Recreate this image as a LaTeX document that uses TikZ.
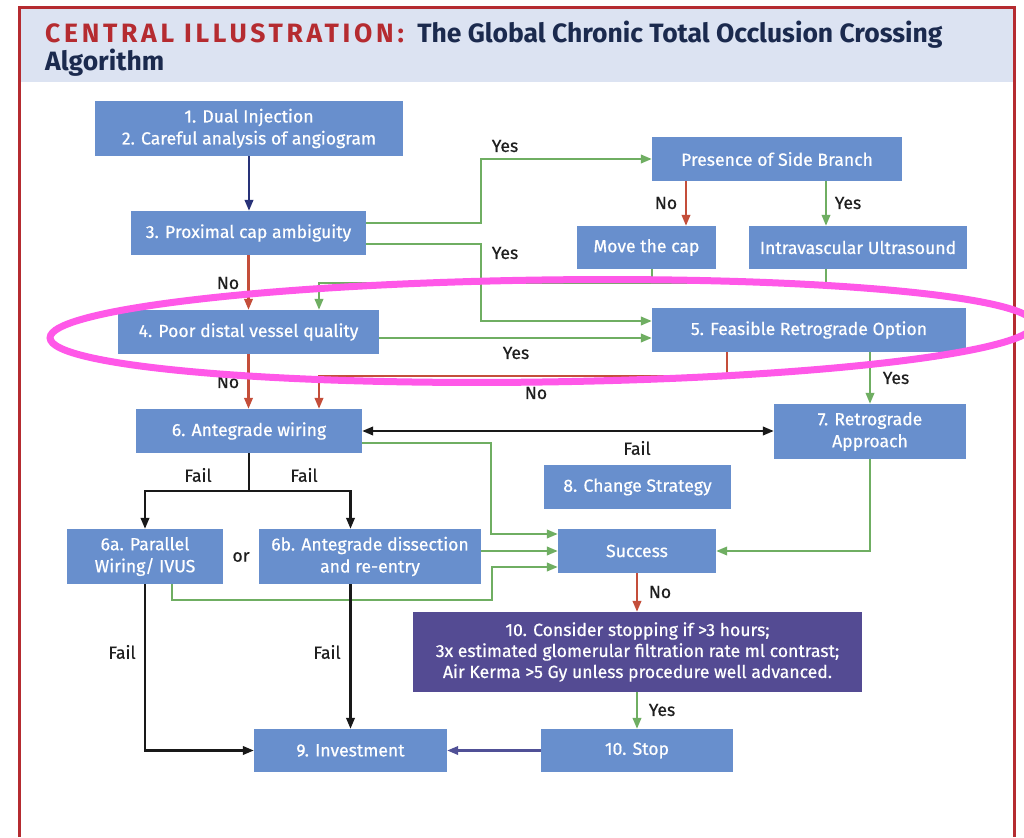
\documentclass[tikz,border=0pt]{standalone}
\usepackage{fontspec}
\usepackage{graphicx}
\setmainfont{Fira Sans}
\newfontfamily\boxfont{Fira Sans}[FakeBold=0.6]
\usetikzlibrary{arrows.meta,calc}
\definecolor{boxblue}{HTML}{688FCD}
\definecolor{lgreen}{HTML}{6FAE62}
\definecolor{lred}{HTML}{C44E3A}
\definecolor{pbox}{HTML}{544B93}
\definecolor{navyln}{HTML}{283278}
\definecolor{purln}{HTML}{505096}
\definecolor{hred}{HTML}{B52B30}
\definecolor{hnavy}{HTML}{1B2A4E}
\definecolor{hband}{HTML}{DCE3F2}
\definecolor{pinkmark}{HTML}{FF58E8}
\newcommand\hdrfont{\fontsize{26.5}{30}\selectfont\bfseries}
\begin{document}
\begin{tikzpicture}[x=1pt,y=-1pt,
  box/.style={fill=boxblue, text=white, inner sep=0pt, align=center,
    font=\boxfont\fontsize{17.6}{22}\selectfont},
  lbl/.style={text=black!88, inner sep=0pt, font=\boxfont\fontsize{17.6}{20}\selectfont},
  ln/.style={line width=2.2pt, -{Triangle[length=11pt,width=8.5pt]}},
  pl/.style={line width=2.2pt}]
\useasboundingbox (0,0) rectangle (1024,837);
\fill[white] (0,0) rectangle (1024,837);
% header
\fill[hband] (20.5,9.5) rectangle (1012.5,82);
\draw[hred, line width=3pt] (19,837) -- (19,8) -- (1014,8) -- (1014,837);
\node[anchor=base west, inner sep=0pt, text=hred, font=\hdrfont] (h1) at (45,43)
  {\addfontfeatures{LetterSpace=14}CENTRAL ILLUSTRATION:};
\node[anchor=base west, inner sep=0pt, text=hnavy, font=\hdrfont] (h2) at ([xshift=13pt]h1.base east)
  {The Global Chronic Total Occlusion Crossing};
\node[anchor=base west, inner sep=0pt, text=hnavy, font=\hdrfont] (h3) at (45,71)
  {Algorithm};
% boxes
\node[box, minimum width=308, minimum height=55] (b1) at (249,128.5) {1. Dual Injection\\2. Careful analysis of angiogram};
\node[box, minimum width=235, minimum height=44] (b3) at (248.5,233) {3. Proximal cap ambiguity};
\node[box, minimum width=250, minimum height=44] (sb) at (777,159) {Presence of Side Branch};
\node[box, minimum width=139, minimum height=43] (mc) at (646.5,247.5) {Move the cap};
\node[box, minimum width=218, minimum height=43] (iv) at (858,247.5) {Intravascular Ultrasound};
\node[box, minimum width=261, minimum height=44] (b4) at (248.5,332) {4. Poor distal vessel quality};
\node[box, minimum width=314, minimum height=44] (b5) at (809,330) {5. Feasible Retrograde Option};
\node[box, minimum width=226, minimum height=44] (b6) at (249,431) {6. Antegrade wiring};
\node[box, minimum width=192, minimum height=55] (b7) at (870,431.5) {7. Retrograde\\Approach};
\node[box, minimum width=187, minimum height=44] (b8) at (637.5,487) {8. Change Strategy};
\node[box, minimum width=158, minimum height=44] (su) at (637,551) {Success};
\node[box, minimum width=156, minimum height=55] (b6a) at (145,556.5) {6a. Parallel\\Wiring/ IVUS};
\node[box, minimum width=222, minimum height=55] (b6b) at (370,556.5) {6b. Antegrade dissection\\and re-entry};
\node[box, fill=pbox, minimum width=449, minimum height=80, font=\boxfont\fontsize{17.6}{21}\selectfont] (b10) at (637.5,652) {10. Consider stopping if >3 hours;\\3x estimated glomerular filtration rate ml contrast;\\Air Kerma >5 Gy unless procedure well advanced.};
\node[box, minimum width=192, minimum height=43] (st) at (637,750.5) {10. Stop};
\node[box, minimum width=193, minimum height=43] (in) at (350.5,750.5) {9. Investment};
% connectors
\draw[ln, navyln] (b1.south) -- (b1.south |- b3.north);
\draw[ln, lgreen] ([yshift=10pt]b3.east) -- ++(115,0) |- (sb.west);
\draw[ln, lgreen] ([yshift=-11pt]b3.east) -- ++(115,0) |- ([yshift=9pt]b5.west);
\draw[ln, lred] ([xshift=-91pt]sb.south) -- ([xshift=-91pt]sb.south |- mc.north);
\draw[ln, lgreen] ([xshift=49pt]sb.south) -- ([xshift=49pt]sb.south |- iv.north);
\draw[ln, lgreen] ([xshift=-32pt]iv.south) -- ++(0,14) -| ([xshift=70.5pt]b4.north);
\draw[pl, lgreen] ([xshift=5.5pt]mc.south) -- ++(0,14);
\draw[ln, lred] (b3.south) -- (b3.south |- b4.north);
\draw[ln, lgreen] ([yshift=-6pt]b4.east) coordinate (p45) -- (p45 -| b5.west);
\draw[ln, lred] ([xshift=-82pt]b5.south) -- ++(0,24) -| ([xshift=70pt]b6.north);
\draw[ln, lred] (b4.south) -- (b4.south |- b6.north);
\draw[ln, lgreen] (b7.north |- b5.south) -- (b7.north);
\draw[line width=2.2pt, {Triangle[length=11pt,width=8.5pt]}-{Triangle[length=11pt,width=8.5pt]}, black!90] (b6.east) -- (b6.east -| b7.west);
\draw[ln, lgreen] ([yshift=-12pt]b6.east) -- ++(129,0) |- ([yshift=17pt]su.west);
\draw[ln, lgreen] (su.west -| b6b.east) -- (su.west);
\draw[ln, lgreen] ([xshift=27pt]b6a.south) -- ++(0,16) -- ++(320,0) |- ([yshift=-16pt]su.west);
\draw[ln, lgreen] (b7.south) |- (su.east);
\draw[pl, black!90] (b6.south) -- ++(0,38) coordinate (fj);
\draw[ln, black!90] (fj) -| (b6a.north);
\draw[ln, black!90] (fj) -| (in.north |- b6b.north);
\draw[ln, black!90] (b6a.south) |- (in.west);
\draw[ln, black!90] (in.north |- b6b.south) -- (in.north);
\draw[ln, lred] (su.south) -- (su.south |- b10.north);
\draw[ln, lgreen] (b10.south -| st.north) -- (st.north);
\draw[ln, purln] (st.west) -- (in.east);
% labels
\node[lbl] (l1) at (505,146) {Yes};
\node[lbl] (l2) at (505,253) {Yes};
\node[lbl] (l3) at (666,203) {No};
\node[lbl] (l4) at (848,203) {Yes};
\node[lbl] (l5) at (228,283) {No};
\node[lbl] (l6) at (516,353) {Yes};
\node[lbl] (l7) at (228,382) {No};
\node[lbl] (l8) at (536,393) {No};
\node[lbl] (l9) at (896,378) {Yes};
\node[lbl] (l10) at (637,448) {Fail};
\node[lbl] (l11) at (198,475) {Fail};
\node[lbl] (l12) at (304,475) {Fail};
\node[lbl] (l13) at (241,557) {or};
\node[lbl] (l14) at (660,592) {No};
\node[lbl] (l15) at (122,652) {Fail};
\node[lbl] (l16) at (327,652) {Fail};
\node[lbl] (l17) at (662,710) {Yes};
% annotation ellipse
\draw[pinkmark, line width=7pt, rotate around={0.8:(542,331)}] (542,331) ellipse [x radius=492, y radius=51];
\end{tikzpicture}
\end{document}
